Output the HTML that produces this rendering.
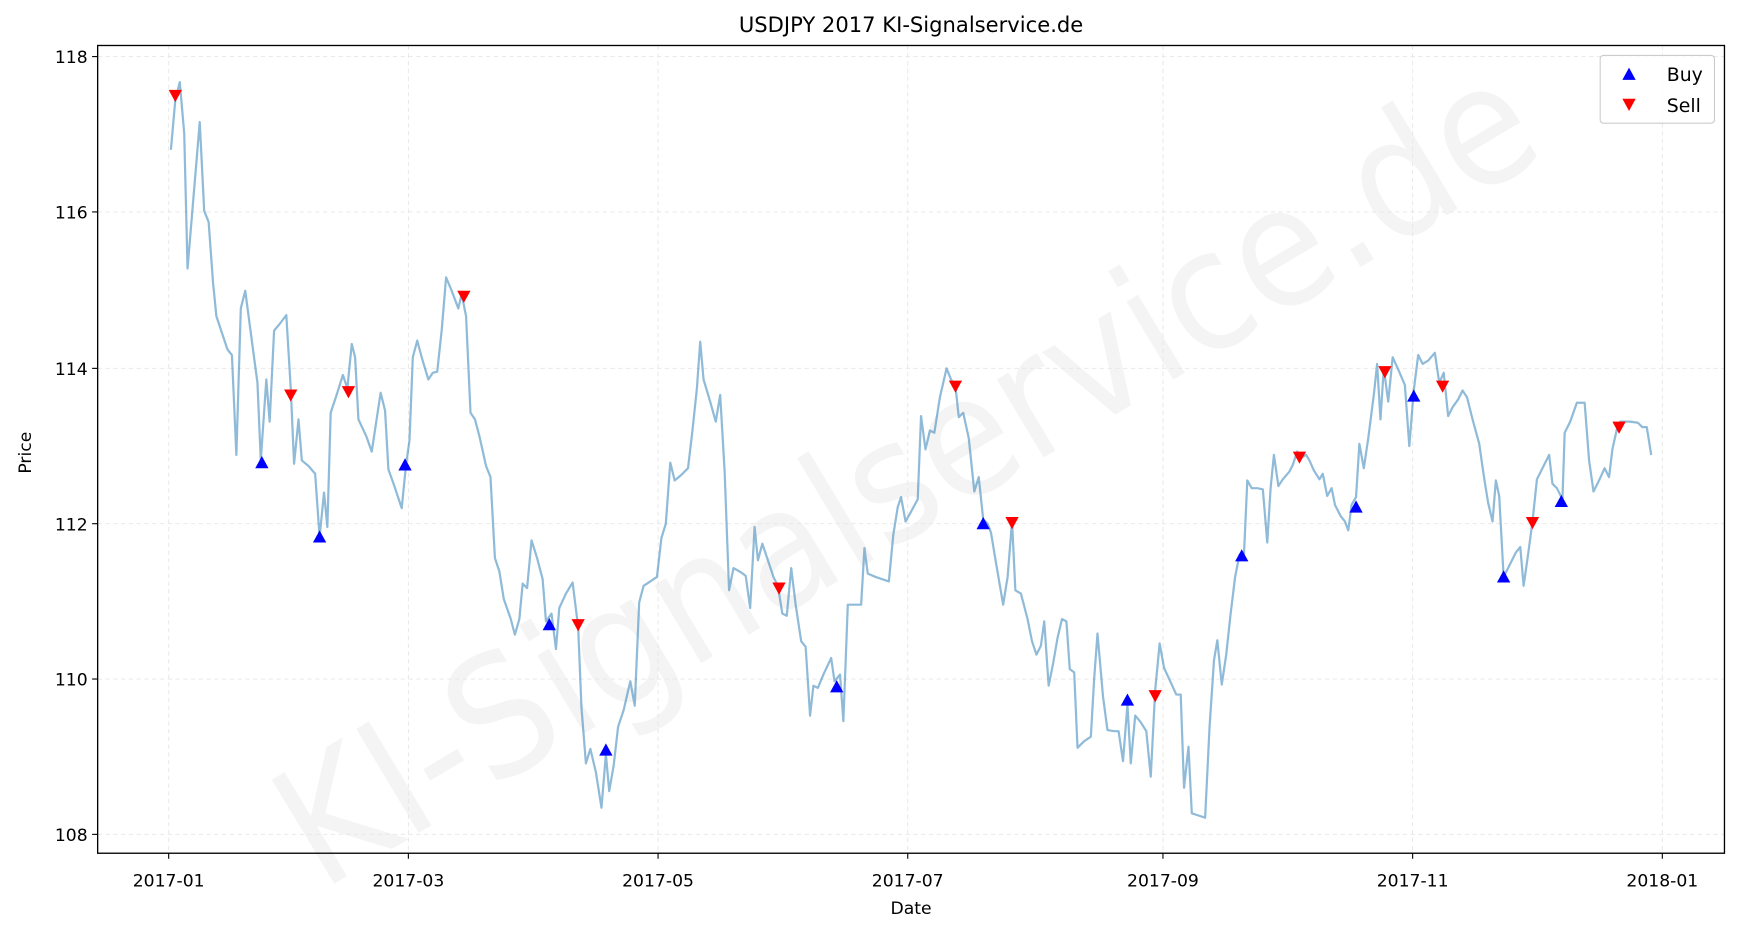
<!DOCTYPE html>
<html><head><meta charset="utf-8"><style>
html,body{margin:0;padding:0;background:#fff;}
svg{display:block;font-family:"DejaVu Sans","Liberation Sans",sans-serif;}
</style></head><body>
<svg width="1740" height="932" viewBox="0 0 1568 840" preserveAspectRatio="none" xmlns="http://www.w3.org/2000/svg">
<rect width="1568" height="840" fill="#fff"/>
<text x="818" y="478" font-size="150" fill="#000" fill-opacity="0.045" text-anchor="middle" transform="rotate(-31 818 430)" textLength="1290" lengthAdjust="spacingAndGlyphs">KI-Signalservice.de</text>
<g stroke="#e6e6e6" stroke-width="0.8" stroke-dasharray="4,3">
<line x1="88" x2="1554" y1="51" y2="51"/><line x1="88" x2="1554" y1="191" y2="191"/><line x1="88" x2="1554" y1="332" y2="332"/><line x1="88" x2="1554" y1="472" y2="472"/><line x1="88" x2="1554" y1="612" y2="612"/><line x1="88" x2="1554" y1="752" y2="752"/>
<line y1="41" y2="769" x1="152" x2="152"/><line y1="41" y2="769" x1="368" x2="368"/><line y1="41" y2="769" x1="593" x2="593"/><line y1="41" y2="769" x1="818" x2="818"/><line y1="41" y2="769" x1="1048" x2="1048"/><line y1="41" y2="769" x1="1273" x2="1273"/><line y1="41" y2="769" x1="1498" x2="1498"/>
</g>
<polyline fill="none" stroke="#1f77b4" stroke-opacity="0.5" stroke-width="2" stroke-linejoin="round" points="154,135 158,90 162,74 166,120 169,242 175,170 180,110 184,190 188,200 192,255 195,285 200,300 205,315 209,320 213,410 217,278 221,262 226,300 232,345 235,415 240,342 243,380 247,298 252,292 258,284 262,350 265,418 269,378 272,415 278,420 284,427 288,484 292,444 295,475 298,372 303,357 309,338 313,350 317,310 320,322 323,378 330,393 335,407 343,354 347,370 350,423 355,437 362,458 366,418 369,397 372,322 376,307 380,322 386,342 390,336 394,335 398,298 402,250 407,262 413,278 416,265 420,285 424,372 428,378 432,393 438,420 442,430 446,503 450,515 454,540 460,557 464,572 468,558 471,526 475,530 479,487 484,503 489,522 492,560 497,553 501,585 504,548 510,535 516,525 521,565 524,638 528,688 532,675 537,696 542,728 546,680 549,713 553,690 557,655 562,640 568,614 572,636 576,543 580,528 586,524 592,520 596,485 600,472 604,417 608,433 614,428 620,422 624,388 628,350 631,308 634,342 640,362 645,380 649,356 653,425 657,532 661,512 668,516 672,519 676,548 680,475 683,505 687,490 692,505 697,520 701,528 705,553 709,555 713,512 717,545 722,578 726,583 730,645 733,618 737,620 742,608 749,593 752,614 757,608 760,650 764,545 770,545 776,545 779,494 782,517 789,520 795,522 801,524 805,482 809,457 812,448 816,470 820,463 827,450 830,375 834,405 838,388 842,390 847,358 853,332 857,342 861,348 864,376 868,372 873,395 878,443 882,430 886,468 890,472 893,480 898,510 904,545 908,520 912,470 915,532 920,535 926,558 930,578 934,590 938,582 941,560 945,618 949,598 953,575 957,558 961,560 964,603 968,606 971,674 977,668 983,664 986,612 989,571 994,628 998,658 1004,659 1008,659 1012,686 1016,635 1019,688 1023,645 1028,651 1033,659 1037,700 1041,622 1045,580 1049,602 1055,615 1060,626 1064,626 1067,710 1071,673 1074,733 1080,735 1086,737 1090,655 1094,595 1097,577 1101,617 1105,590 1109,553 1113,520 1117,500 1121,500 1124,433 1128,440 1133,440 1138,441 1142,489 1145,440 1148,410 1152,438 1156,432 1162,425 1165,419 1169,407 1173,412 1177,410 1180,415 1184,424 1189,432 1192,427 1196,447 1200,440 1203,455 1208,465 1212,470 1215,478 1218,455 1222,448 1225,400 1229,422 1233,395 1238,356 1241,328 1244,378 1247,332 1251,362 1255,322 1260,333 1266,347 1270,402 1274,352 1278,320 1282,328 1287,325 1293,318 1297,345 1301,336 1305,375 1309,367 1314,360 1318,352 1322,358 1327,378 1333,400 1337,428 1341,453 1345,470 1348,433 1351,447 1355,520 1360,510 1366,498 1370,493 1373,528 1377,500 1381,470 1385,432 1391,420 1396,410 1399,436 1403,440 1408,450 1410,390 1415,380 1421,363 1428,363 1432,415 1436,443 1441,433 1446,422 1450,430 1453,405 1457,387 1460,380 1464,380 1469,380 1476,381 1480,385 1484,385 1488,410"/>
<g fill="#0000ff">
<path d="M236,411 l6,11 h-12z"/><path d="M288,478 l6,11 h-12z"/><path d="M365,413 l6,11 h-12z"/><path d="M495,557 l6,11 h-12z"/><path d="M546,670 l6,11 h-12z"/><path d="M754,613 l6,11 h-12z"/><path d="M886,466 l6,11 h-12z"/><path d="M1016,625 l6,11 h-12z"/><path d="M1119,495 l6,11 h-12z"/><path d="M1222,451 l6,11 h-12z"/><path d="M1274,351 l6,11 h-12z"/><path d="M1355,514 l6,11 h-12z"/><path d="M1407,446 l6,11 h-12z"/>
</g>
<g fill="#ff0000">
<path d="M158,92 l6,-11 h-12z"/><path d="M262,362 l6,-11 h-12z"/><path d="M314,359 l6,-11 h-12z"/><path d="M418,273 l6,-11 h-12z"/><path d="M521,569 l6,-11 h-12z"/><path d="M702,536 l6,-11 h-12z"/><path d="M861,354 l6,-11 h-12z"/><path d="M912,477 l6,-11 h-12z"/><path d="M1041,633 l6,-11 h-12z"/><path d="M1171,418 l6,-11 h-12z"/><path d="M1248,341 l6,-11 h-12z"/><path d="M1300,354 l6,-11 h-12z"/><path d="M1381,477 l6,-11 h-12z"/><path d="M1459,391 l6,-11 h-12z"/>
</g>
<rect x="88" y="41" width="1466" height="728" fill="none" stroke="#000" stroke-width="1.2"/>
<g stroke="#000" stroke-width="1">
<line x1="83" x2="88" y1="51" y2="51"/><line x1="83" x2="88" y1="191" y2="191"/><line x1="83" x2="88" y1="332" y2="332"/><line x1="83" x2="88" y1="472" y2="472"/><line x1="83" x2="88" y1="612" y2="612"/><line x1="83" x2="88" y1="752" y2="752"/>
<line y1="769" y2="774" x1="152" x2="152"/><line y1="769" y2="774" x1="368" x2="368"/><line y1="769" y2="774" x1="593" x2="593"/><line y1="769" y2="774" x1="818" x2="818"/><line y1="769" y2="774" x1="1048" x2="1048"/><line y1="769" y2="774" x1="1273" x2="1273"/><line y1="769" y2="774" x1="1498" x2="1498"/>
</g>
<g font-size="15.5" fill="#000" text-anchor="end">
<text x="79" y="57">118</text><text x="79" y="197">116</text><text x="79" y="338">114</text><text x="79" y="478">112</text><text x="79" y="618">110</text><text x="79" y="758">108</text>
</g>
<g font-size="15.5" fill="#000" text-anchor="middle">
<text x="152" y="799">2017-01</text><text x="368" y="799">2017-03</text><text x="593" y="799">2017-05</text><text x="818" y="799">2017-07</text><text x="1048" y="799">2017-09</text><text x="1273" y="799">2017-11</text><text x="1498" y="799">2018-01</text>
<text x="821" y="824">Date</text>
<text x="821" y="29" font-size="19">USDJPY 2017 KI-Signalservice.de</text>
<text x="0" y="0" transform="translate(28,408) rotate(-90)">Price</text>
</g>
<rect x="1442" y="50" width="103" height="61" rx="3" fill="#fff" fill-opacity="0.8" stroke="#ccc"/>
<path d="M1468,61 l6,11 h-12z" fill="#0000ff"/>
<path d="M1468,100 l6,-11 h-12z" fill="#ff0000"/>
<text x="1502" y="73" font-size="17">Buy</text>
<text x="1502" y="101" font-size="17">Sell</text>
</svg>
</body></html>
